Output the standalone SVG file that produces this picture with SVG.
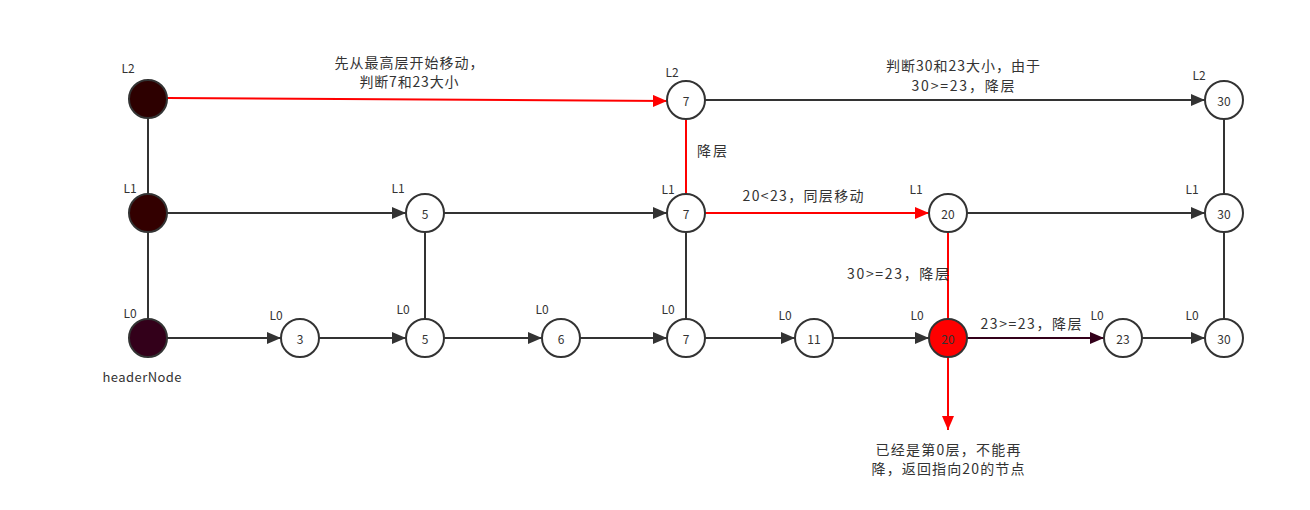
<svg xmlns="http://www.w3.org/2000/svg" width="1310" height="510" viewBox="0 0 1310 510">
<style>
.n{fill:#fff;stroke:#333;stroke-width:2}
.t{font-family:"Noto Sans CJK SC","Liberation Sans",sans-serif;font-size:12px;fill:#333;text-anchor:middle;dominant-baseline:central}
.l{font-family:"Noto Sans CJK SC","Liberation Sans",sans-serif;font-size:12px;fill:#333;text-anchor:middle}
.c{font-family:"Noto Sans CJK SC","Liberation Sans",sans-serif;font-size:14px;fill:#333;text-anchor:middle}
.k{stroke:#333;stroke-width:2;fill:none}
.r{stroke:#f00;stroke-width:2;fill:none}
.p{stroke:#33001a;stroke-width:2;fill:none}
</style>
<defs>
<marker id="ak" markerUnits="userSpaceOnUse" markerWidth="16" markerHeight="12" refX="14" refY="6" orient="auto"><path d="M0,0L14,6L0,12Z" fill="#333"/></marker>
<marker id="ar" markerUnits="userSpaceOnUse" markerWidth="16" markerHeight="12" refX="14" refY="6" orient="auto"><path d="M0,0L14,6L0,12Z" fill="#f00"/></marker>
<marker id="ap" markerUnits="userSpaceOnUse" markerWidth="16" markerHeight="12" refX="14" refY="6" orient="auto"><path d="M0,0L14,6L0,12Z" fill="#33001a"/></marker>
</defs>
<rect width="1310" height="510" fill="#fff"/>
<g id="connectors">
<line class="k" x1="148" y1="118" x2="148" y2="194"/>
<line class="k" x1="148" y1="232" x2="148" y2="319"/>
<line class="k" x1="425" y1="232" x2="425" y2="319"/>
<line class="k" x1="686" y1="232" x2="686" y2="319"/>
<line class="k" x1="1224" y1="119" x2="1224" y2="194"/>
<line class="k" x1="1224" y1="232" x2="1224" y2="319"/>
<line class="r" x1="167" y1="98" x2="667" y2="101" marker-end="url(#ar)"/>
<line class="k" x1="705" y1="100" x2="1205" y2="100" marker-end="url(#ak)"/>
<line class="r" x1="686" y1="119" x2="686" y2="194"/>
<line class="k" x1="167" y1="213" x2="406" y2="213" marker-end="url(#ak)"/>
<line class="k" x1="444" y1="213" x2="667" y2="213" marker-end="url(#ak)"/>
<line class="r" x1="705" y1="213" x2="929" y2="213" marker-end="url(#ar)"/>
<line class="k" x1="967" y1="213" x2="1205" y2="213" marker-end="url(#ak)"/>
<line class="r" x1="948" y1="232" x2="948" y2="319"/>
<line class="r" x1="948" y1="357" x2="948" y2="430" marker-end="url(#ar)"/>
<line class="k" x1="167" y1="338" x2="281" y2="338" marker-end="url(#ak)"/>
<line class="k" x1="319" y1="338" x2="406" y2="338" marker-end="url(#ak)"/>
<line class="k" x1="444" y1="338" x2="542" y2="338" marker-end="url(#ak)"/>
<line class="k" x1="580" y1="338" x2="667" y2="338" marker-end="url(#ak)"/>
<line class="k" x1="705" y1="338" x2="795" y2="338" marker-end="url(#ak)"/>
<line class="k" x1="833" y1="338" x2="929" y2="338" marker-end="url(#ak)"/>
<line class="p" x1="967" y1="338" x2="1104" y2="338" marker-end="url(#ap)"/>
<line class="k" x1="1142" y1="338" x2="1205" y2="338" marker-end="url(#ak)"/>
</g>
<g id="header-L2"><circle cx="148" cy="99" r="19" fill="#2d0000" stroke="#333" stroke-width="2"/><text class="l" x="128" y="73">L2</text></g>
<g id="header-L1"><circle cx="148" cy="213" r="19" fill="#330000" stroke="#333" stroke-width="2"/><text class="l" x="130" y="193">L1</text></g>
<g id="header-L0"><circle cx="148" cy="338" r="19" fill="#33001a" stroke="#333" stroke-width="2"/><text class="l" x="130" y="318">L0</text><text class="c" x="142" y="382" style="font-size:13px" textLength="79" lengthAdjust="spacing">headerNode</text></g>
<g id="n7-L2"><circle class="n" cx="686" cy="100" r="19"/><text class="t" x="686" y="100">7</text><text class="l" x="672" y="77">L2</text></g>
<g id="n30-L2"><circle class="n" cx="1224" cy="100" r="19"/><text class="t" x="1224" y="100">30</text><text class="l" x="1199" y="80">L2</text></g>
<g id="n5-L1"><circle class="n" cx="425" cy="213" r="19"/><text class="t" x="425" y="213">5</text><text class="l" x="398" y="193">L1</text></g>
<g id="n7-L1"><circle class="n" cx="686" cy="213" r="19"/><text class="t" x="686" y="213">7</text><text class="l" x="668" y="194">L1</text></g>
<g id="n20-L1"><circle class="n" cx="948" cy="213" r="19"/><text class="t" x="948" y="213">20</text><text class="l" x="916" y="194">L1</text></g>
<g id="n30-L1"><circle class="n" cx="1224" cy="213" r="19"/><text class="t" x="1224" y="213">30</text><text class="l" x="1192" y="194">L1</text></g>
<g id="n3-L0"><circle class="n" cx="300" cy="338" r="19"/><text class="t" x="300" y="338">3</text><text class="l" x="276" y="320">L0</text></g>
<g id="n5-L0"><circle class="n" cx="425" cy="338" r="19"/><text class="t" x="425" y="338">5</text><text class="l" x="403" y="314">L0</text></g>
<g id="n6-L0"><circle class="n" cx="561" cy="338" r="19"/><text class="t" x="561" y="338">6</text><text class="l" x="542" y="314">L0</text></g>
<g id="n7-L0"><circle class="n" cx="686" cy="338" r="19"/><text class="t" x="686" y="338">7</text><text class="l" x="668" y="314">L0</text></g>
<g id="n11-L0"><circle class="n" cx="814" cy="338" r="19"/><text class="t" x="814" y="338">11</text><text class="l" x="785" y="320">L0</text></g>
<g id="n20-L0"><circle cx="948" cy="338" r="19" fill="#f00" stroke="#333" stroke-width="2"/><text class="t" x="948" y="338">20</text><text class="l" x="917" y="320">L0</text></g>
<g id="n23-L0"><circle class="n" cx="1123" cy="338" r="19"/><text class="t" x="1123" y="338">23</text><text class="l" x="1097" y="320">L0</text></g>
<g id="n30-L0"><circle class="n" cx="1224" cy="338" r="19"/><text class="t" x="1224" y="338">30</text><text class="l" x="1192" y="320">L0</text></g>
<g id="labels">
<text class="c" x="409" y="68" textLength="149" lengthAdjust="spacing">先从最高层开始移动，</text>
<text class="c" x="409" y="87" textLength="99" lengthAdjust="spacing">判断7和23大小</text>
<text class="c" x="963" y="71" textLength="154" lengthAdjust="spacing">判断30和23大小，由于</text>
<text class="c" x="963" y="91" textLength="103" lengthAdjust="spacing">30&gt;=23，降层</text>
<text class="c" x="712" y="156" textLength="30" lengthAdjust="spacing">降层</text>
<text class="c" x="803" y="201" textLength="121" lengthAdjust="spacing">20&lt;23，同层移动</text>
<text class="c" x="898" y="279" textLength="102" lengthAdjust="spacing">30&gt;=23，降层</text>
<text class="c" x="1031" y="329" textLength="101" lengthAdjust="spacing">23&gt;=23，降层</text>
<text class="c" x="948" y="455" textLength="145" lengthAdjust="spacing">已经是第0层，不能再</text>
<text class="c" x="948" y="474" textLength="153" lengthAdjust="spacing">降，返回指向20的节点</text>
</g>
</svg>
